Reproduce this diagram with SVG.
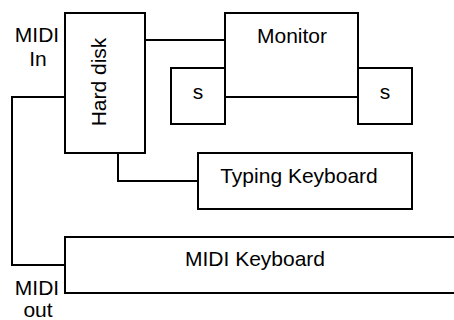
<svg xmlns="http://www.w3.org/2000/svg" width="454" height="320" viewBox="0 0 454 320">
<style>
rect{fill:#fff;stroke:#000;stroke-width:2}
path{fill:none;stroke:#000;stroke-width:2}
text{font-family:"Liberation Sans",Arial,sans-serif;font-size:21px;fill:#000;text-anchor:middle}
</style>
<rect x="0" y="0" width="454" height="320" style="stroke:none"/>
<g id="connectors">
<path d="M145,40 H225"/>
<path d="M118,153 V181 H198"/>
<path d="M65,97 H12 V265 H65"/>
</g>
<g id="hard-disk"><rect x="65" y="13" width="80" height="140"/><text transform="translate(106,82) rotate(-90)">Hard disk</text></g>
<g id="speaker-left"><rect x="171" y="68" width="54" height="56"/><text x="198" y="99">s</text></g>
<g id="speaker-right"><rect x="358" y="68" width="54" height="56"/><text x="385" y="99">s</text></g>
<g id="monitor"><rect x="225" y="13" width="133" height="84"/><text x="292" y="43">Monitor</text></g>
<g id="typing-keyboard"><rect x="198" y="153" width="214" height="56"/><text x="299" y="183">Typing Keyboard</text></g>
<g id="midi-keyboard"><rect x="65" y="237" width="400" height="56"/><text x="255" y="266">MIDI Keyboard</text></g>
<g id="midi-in"><text x="37" y="42">MIDI</text><text x="38" y="66">In</text></g>
<g id="midi-out"><text x="37" y="295">MIDI</text><text x="38" y="317">out</text></g>
</svg>
